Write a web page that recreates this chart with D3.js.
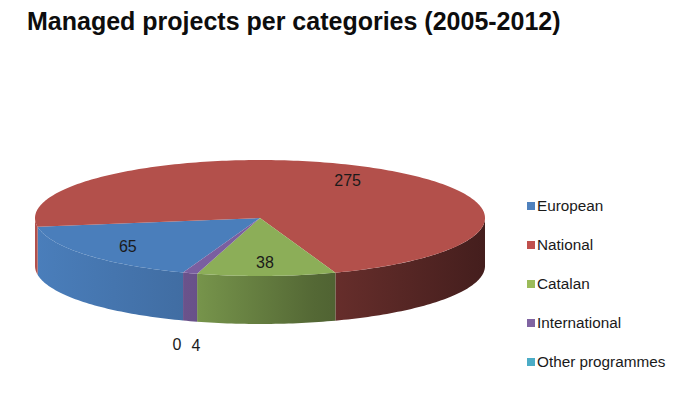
<!DOCTYPE html>
<html>
<head>
<meta charset="utf-8">
<script src="https://cdn.jsdelivr.net/npm/d3@7"></script>
<style>
  body { margin: 0; background: #fff; }
  text { font-family: "Liberation Sans", Arial, sans-serif; }
</style>
</head>
<body>
<div id="chart"></div>
<script>
// data
var categories = ["European", "National", "Catalan", "International", "Other programmes"];
var values = [65, 275, 38, 4, 0];
var topColors = ["#4a7ebb", "#b3504b", "#8cae58", "#7a5fa0", "#4bacc6"];
var legendColors = ["#4f81bd", "#c0504d", "#9bbb59", "#8064a2", "#4bacc6"];

var W = 675, H = 396;
var cx = 260, cy = 218, rx = 225, ry = 58, depth = 48;
var startDeg = 200;

var svg = d3.select("#chart").append("svg")
    .attr("width", W).attr("height", H);

var data = categories.map(function(c, i) { return {name: c, value: values[i]}; });

var pie = d3.pie()
    .sort(null)
    .value(function(d) { return d.value; })
    .startAngle(startDeg * Math.PI / 180)
    .endAngle(startDeg * Math.PI / 180 + 2 * Math.PI);
var arcs = pie(data);

var color = d3.scaleOrdinal().domain(categories).range(topColors);

// project an angle (clockwise from 12 o'clock) onto the flattened ellipse
function pt(a, f, dy) {
    return [cx + rx * f * Math.sin(a), cy - ry * f * Math.cos(a) + (dy || 0)];
}
function arcPts(a0, a1, dy) {
    var n = Math.max(2, Math.ceil(Math.abs(a1 - a0) / 0.02));
    return d3.range(n + 1).map(function(k) { return pt(a0 + (a1 - a0) * k / n, 1, dy); });
}
var line = d3.line();

// side gradients: light on the left, dark on the right
var defs = svg.append("defs");
var shade = [[0, 1.0], [0.35, 0.86], [0.62, 0.6], [1, 0.38]];
arcs.forEach(function(d, i) {
    var g = defs.append("linearGradient")
        .attr("id", "side" + i)
        .attr("gradientUnits", "userSpaceOnUse")
        .attr("x1", cx - rx).attr("x2", cx + rx)
        .attr("y1", 0).attr("y2", 0);
    var c = d3.rgb(color(d.data.name));
    shade.forEach(function(s) {
        g.append("stop").attr("offset", s[0])
            .attr("stop-color", d3.rgb(c.r * s[1], c.g * s[1], c.b * s[1]).formatHex());
    });
});

// front walls (angles between 90deg and 270deg, mod 360)
var sides = svg.append("g");
arcs.forEach(function(d, i) {
    if (d.endAngle - d.startAngle <= 0) return;
    [0, 2 * Math.PI, 4 * Math.PI].forEach(function(off) {
        var a0 = Math.max(d.startAngle, Math.PI / 2 + off);
        var a1 = Math.min(d.endAngle, 3 * Math.PI / 2 + off);
        if (a1 <= a0) return;
        var top = arcPts(a0, a1, 0);
        var bot = arcPts(a1, a0, depth);
        sides.append("path")
            .attr("d", line(top.concat(bot)) + "Z")
            .attr("fill", "url(#side" + i + ")");
    });
});

// top faces
var tops = svg.append("g");
arcs.forEach(function(d) {
    if (d.endAngle - d.startAngle <= 0) return;
    var pts = [[cx, cy]].concat(arcPts(d.startAngle, d.endAngle, 0));
    tops.append("path")
        .attr("d", line(pts) + "Z")
        .attr("fill", color(d.data.name));
});

// data labels
var inside = [], outside = [];
arcs.forEach(function(d) {
    var mid = (d.startAngle + d.endAngle) / 2;
    var share = (d.endAngle - d.startAngle) / (2 * Math.PI);
    if (share > 0.05) {
        var p = pt(mid, 0.76, 0);
        inside.push({x: p[0], y: p[1], t: d.data.value});
    } else {
        var q = pt(mid, 1, depth + 24);
        outside.push({x: q[0], y: q[1], t: d.data.value});
    }
});
// spread outside labels so they do not collide
outside.sort(function(a, b) { return a.x - b.x; });
var gap = 19;
if (outside.length > 1) {
    var mean = d3.mean(outside, function(o) { return o.x; });
    var w = gap * (outside.length - 1);
    outside.forEach(function(o, k) { o.x = mean - w / 2 + k * gap; });
}
svg.append("g").selectAll("text")
    .data(inside.concat(outside))
    .enter().append("text")
    .attr("x", function(d) { return d.x; })
    .attr("y", function(d) { return d.y; })
    .attr("dy", "0.35em")
    .attr("text-anchor", "middle")
    .style("font-size", "16px")
    .style("fill", "#1a1a1a")
    .text(function(d) { return d.t; });

// legend
var ly = d3.scalePoint().domain(categories).range([206, 362]);
var legend = svg.append("g").selectAll("g")
    .data(categories).enter().append("g")
    .attr("transform", function(d) { return "translate(527," + ly(d) + ")"; });
legend.append("rect")
    .attr("x", 0).attr("y", -4)
    .attr("width", 8).attr("height", 8)
    .attr("fill", function(d, i) { return legendColors[i]; });
legend.append("text")
    .attr("x", 10).attr("dy", "0.35em")
    .style("font-size", "15.3px")
    .style("fill", "#1a1a1a")
    .text(function(d) { return d; });

// title
svg.append("text")
    .attr("x", 27).attr("y", 30)
    .style("font-size", "25px")
    .style("font-weight", "bold")
    .style("fill", "#0d0d0d")
    .text("Managed projects per categories (2005-2012)");
</script>
</body>
</html>
